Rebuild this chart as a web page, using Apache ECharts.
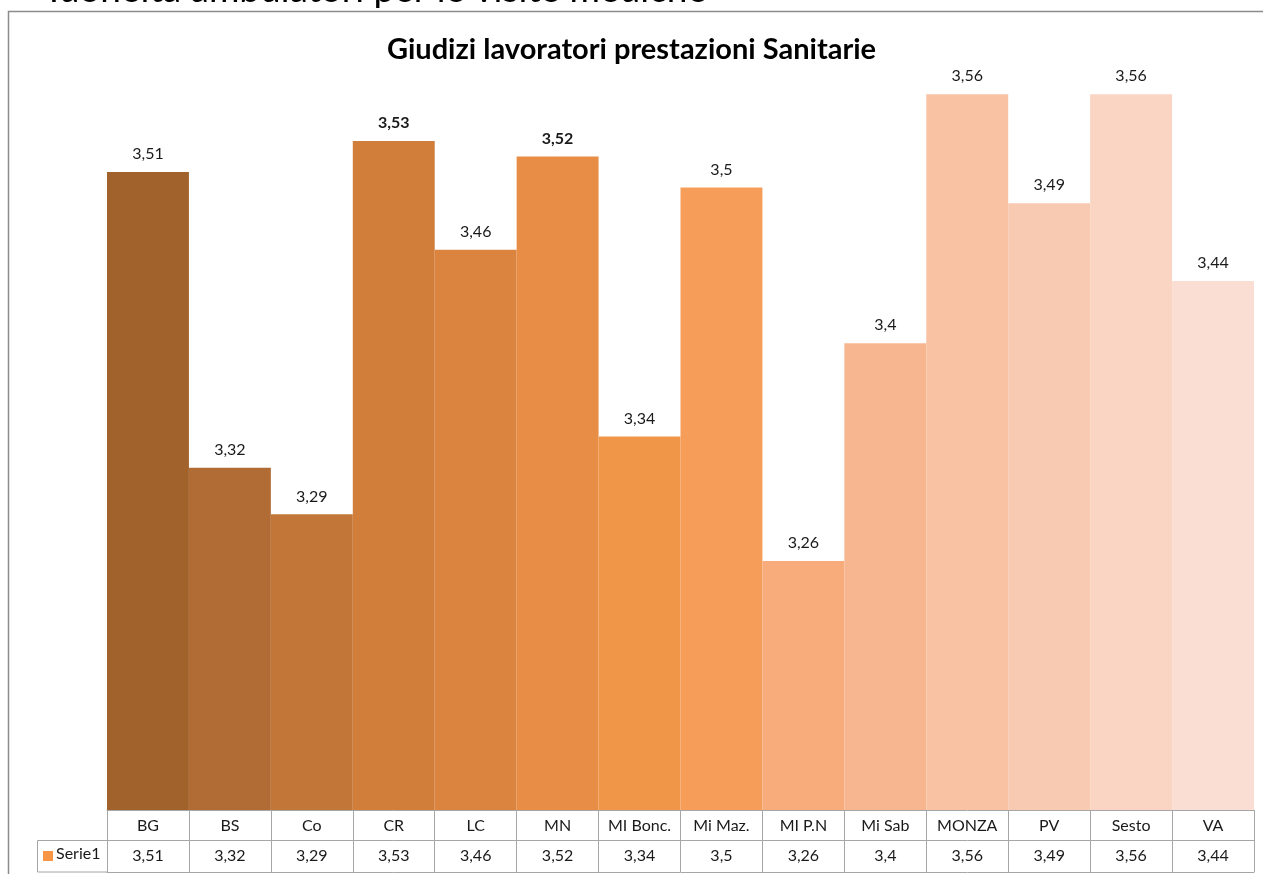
<!DOCTYPE html>
<html>
<head>
<meta charset="utf-8">
<script src="https://cdn.jsdelivr.net/npm/echarts@6/dist/echarts.min.js"></script>
<style>
  html, body { margin: 0; padding: 0; background: #fff; }
  #chart { width: 1263px; height: 874px; }
</style>
</head>
<body>
<div id="chart"></div>
<script>
// Sedi e giudizi medi dei lavoratori
const categories = ['BG', 'BS', 'Co', 'CR', 'LC', 'MN', 'MI Bonc.', 'Mi Maz.', 'MI P.N', 'Mi Sab', 'MONZA', 'PV', 'Sesto', 'VA'];
const values = [3.51, 3.32, 3.29, 3.53, 3.46, 3.52, 3.34, 3.5, 3.26, 3.4, 3.56, 3.49, 3.56, 3.44];
const seriesName = 'Serie1';
const boldLabels = ['CR', 'MN'];

// Tonalità delle colonne, dal marrone scuro al pesca chiaro
const palette = ['#A2622C', '#B16C35', '#C27637', '#D17E3A', '#DB8440', '#E88D45', '#EF9649',
                 '#F79D5A', '#F8AB7B', '#F8B690', '#F8C2A3', '#F8CAB2', '#FAD5C3', '#FBDED3'];

const FONT = 'Lato, "Open Sans", sans-serif';
const GRID_LINE = '#A6A6A6';
const fmt = v => String(v).replace('.', ',');

const chart = echarts.init(document.getElementById('chart'), null, { renderer: 'canvas' });

chart.setOption({
  animation: false,
  title: {
    text: 'Giudizi lavoratori prestazioni Sanitarie',
    left: 'center',
    top: 30,
    textStyle: { fontFamily: FONT, fontSize: 29, fontWeight: 'bold', color: '#000' }
  },
  grid: { left: 107, right: 9, top: 32, bottom: 64 },
  yAxis: { type: 'value', min: 3.1, max: 3.6, show: false },
  xAxis: [
    {
      type: 'category', data: categories, position: 'bottom',
      axisLine: { lineStyle: { color: GRID_LINE, width: 1 } },
      axisTick: { show: true, interval: 0, length: 62, lineStyle: { color: GRID_LINE } },
      axisLabel: { interval: 0, margin: 8, fontFamily: FONT, fontSize: 16, color: '#1a1a1a' }
    },
    {
      type: 'category', data: values.map(fmt), position: 'bottom', offset: 30,
      axisLine: { lineStyle: { color: GRID_LINE, width: 1 } },
      axisTick: { show: false },
      axisLabel: { interval: 0, margin: 8, fontFamily: FONT, fontSize: 16, color: '#1a1a1a' }
    },
    {
      type: 'category', data: categories, position: 'bottom', offset: 62,
      axisLine: { lineStyle: { color: GRID_LINE, width: 1 } },
      axisTick: { show: false },
      axisLabel: { show: false }
    }
  ],
  series: [{
    name: seriesName,
    type: 'bar',
    xAxisIndex: 0,
    barCategoryGap: 0,
    data: values.map((v, i) => ({
      value: v,
      itemStyle: { color: palette[i] },
      label: boldLabels.includes(categories[i]) ? { fontWeight: 'bold' } : undefined
    })),
    label: {
      show: true, position: 'top', distance: 10,
      fontFamily: FONT, fontSize: 16, color: '#1a1a1a',
      formatter: p => fmt(p.value)
    }
  }],
  graphic: [
    // intestazione della diapositiva, tagliata dal bordo superiore
    {
      type: 'text', left: 10, top: -28,
      style: { text: '›   Idoneità ambulatori per le visite mediche', font: '37px ' + FONT, fill: '#000' }
    },
    // cornice dell'area grafico
    {
      type: 'polyline',
      shape: { points: [[8.5, 874], [8.5, 11.5], [1263, 11.5]] },
      style: { stroke: '#8C8C8C', lineWidth: 1.5, fill: null }
    },
    // cella della legenda nella tabella dati
    {
      type: 'rect',
      shape: { x: 37.5, y: 840.5, width: 70, height: 31.5 },
      style: { stroke: GRID_LINE, fill: null, lineWidth: 1 }
    },
    {
      type: 'rect',
      shape: { x: 43, y: 851, width: 10, height: 10 },
      style: { fill: '#F79646' }
    },
    {
      type: 'text', left: 56, top: 846,
      style: { text: seriesName, font: '16px ' + FONT, fill: '#1a1a1a' }
    }
  ]
});
</script>
</body>
</html>
